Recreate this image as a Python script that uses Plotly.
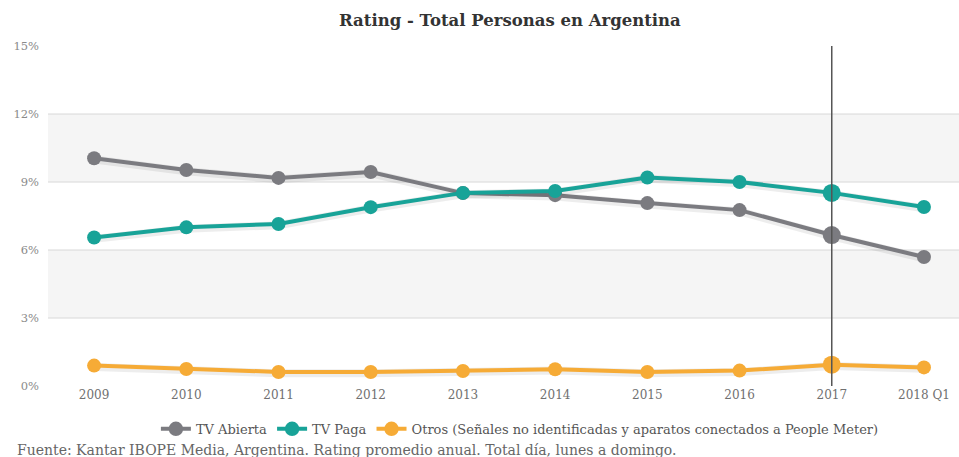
import plotly.graph_objects as go

categories = ["2009", "2010", "2011", "2012", "2013", "2014", "2015", "2016", "2017", "2018 Q1"]
tv_abierta = [10.05, 9.53, 9.18, 9.44, 8.51, 8.42, 8.07, 7.76, 6.66, 5.69]
tv_paga = [6.55, 7.0, 7.15, 7.89, 8.52, 8.6, 9.2, 9.0, 8.52, 7.9]
otros = [0.9, 0.75, 0.62, 0.62, 0.66, 0.74, 0.62, 0.68, 0.94, 0.82]
y_ticks = [0, 3, 6, 9, 12, 15]
highlight = "2017"

series = [
    ("TV Abierta", tv_abierta, "#7b7b80"),
    ("TV Paga", tv_paga, "#18a398"),
    ("Otros (Señales no identificadas y aparatos conectados a People Meter)", otros, "#f6ab36"),
]

fig = go.Figure()
font_family = "DejaVu Serif, serif"

for name, vals, color in series:
    sizes = [18 if c == highlight else 14 for c in categories]
    fig.add_trace(go.Scatter(
        x=categories, y=[v - 0.06 for v in vals], mode="lines",
        line=dict(color="rgba(0,0,0,0.07)", width=8),
        showlegend=False, hoverinfo="skip",
    ))
    fig.add_trace(go.Scatter(
        x=categories, y=vals, name=name, mode="lines+markers",
        line=dict(color=color, width=4),
        marker=dict(color=color, size=sizes, opacity=1, line=dict(width=0)),
    ))

shapes = []
for lo, hi in [(3, 6), (9, 12)]:
    shapes.append(dict(type="rect", xref="paper", yref="y", x0=0, x1=1, y0=lo, y1=hi,
                       fillcolor="#f5f5f5", line=dict(width=0), layer="below"))
for g in y_ticks[1:-1]:
    shapes.append(dict(type="line", xref="paper", yref="y", x0=0, x1=1, y0=g, y1=g,
                       line=dict(color="#d8d8d8", width=1), layer="below"))
shapes.append(dict(type="line", xref="x", yref="y", x0=categories.index(highlight),
                   x1=categories.index(highlight), y0=y_ticks[0], y1=y_ticks[-1],
                   line=dict(color="#555555", width=1.5), layer="above"))

fig.update_layout(
    width=959, height=457,
    margin=dict(l=48, r=0, t=46, b=71),
    paper_bgcolor="white", plot_bgcolor="white",
    font=dict(family=font_family, color="#666666", size=12),
    shapes=shapes,
    showlegend=True,
    legend=dict(orientation="h", x=0.518, xanchor="center", y=-0.126, yanchor="middle",
                font=dict(family=font_family, size=13, color="#555555"),
                itemwidth=30, tracegroupgap=0),
    xaxis=dict(type="category", range=[-0.5, 9.38], showgrid=False, zeroline=False,
               showline=False, ticks="", tickfont=dict(family=font_family, size=12, color="#707070")),
    yaxis=dict(range=[0, 15], tickvals=y_ticks, ticktext=[f"{v}%" for v in y_ticks],
               showgrid=False, zeroline=False, showline=False,
               tickfont=dict(family=font_family, size=11.5, color="#8a8a8a"), ticklabelstandoff=8),
    annotations=[
        dict(text="<b>Rating - Total Personas en Argentina</b>", xref="paper", yref="paper",
             x=0.507, y=1.076, xanchor="center", yanchor="middle", showarrow=False,
             font=dict(family=font_family, size=16.5, color="#333333")),
        dict(text="Fuente: Kantar IBOPE Media, Argentina. Rating promedio anual. Total día, lunes a domingo.",
             xref="paper", yref="paper", x=-0.0362, y=-0.188, xanchor="left", yanchor="middle",
             showarrow=False, font=dict(family=font_family, size=14, color="#666666")),
    ],
)

fig.write_html("out.html", config={"displayModeBar": False},
               post_script="document.body.style.margin='0';")
